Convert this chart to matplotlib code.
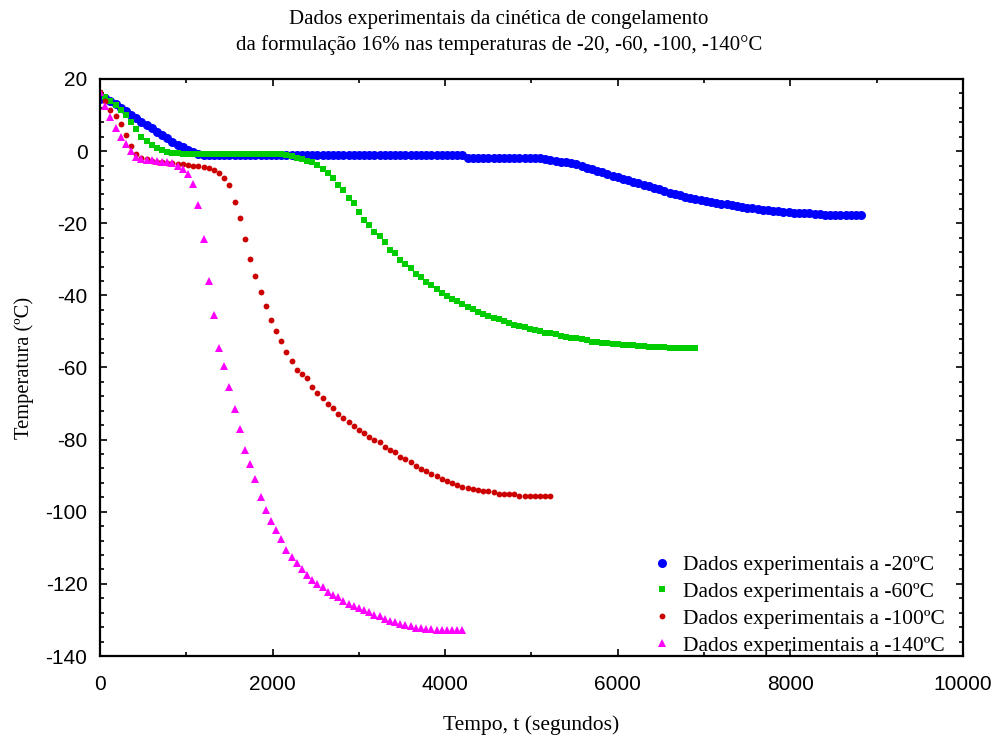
import numpy as np
import matplotlib
matplotlib.use('Agg')
from matplotlib import pyplot as plt
from matplotlib.ticker import MultipleLocator

plt.rcParams['axes.unicode_minus'] = False

serif = ['Liberation Serif', 'DejaVu Serif']
sans = ['Liberation Sans', 'DejaVu Sans']

# sampling every 60 s
dt = 60

# -20 C
temp_20 = [
    14.5, 14.7, 14.0, 13.0, 12.0, 11.0, 10.0, 9.2, 8.2, 7.3, 6.3, 5.3,
    4.5, 3.5, 2.6, 1.8, 1.0, 0.3, -0.3, -0.8, -1.1, -1.1, -1.1, -1.1,
    -1.1, -1.1, -1.1, -1.1, -1.1, -1.1, -1.1, -1.1, -1.1, -1.1, -1.1, -1.1,
    -1.1, -1.1, -1.1, -1.1, -1.1, -1.1, -1.1, -1.1, -1.1, -1.1, -1.1, -1.1,
    -1.1, -1.1, -1.1, -1.1, -1.1, -1.1, -1.1, -1.1, -1.1, -1.1, -1.1, -1.1,
    -1.1, -1.1, -1.1, -1.1, -1.1, -1.1, -1.1, -1.1, -1.1, -1.1, -1.1, -1.8,
    -1.8, -1.8, -1.8, -1.8, -1.8, -1.8, -1.8, -1.8, -1.8, -1.8, -1.8, -1.8,
    -1.8, -1.8, -2.1, -2.4, -2.7, -3.0, -3.1, -3.3, -3.6, -4.2, -4.6, -5.0,
    -5.4, -5.8, -6.3, -6.8, -7.2, -7.7, -8.1, -8.5, -8.9, -9.4, -9.8, -10.2,
    -10.6, -11.1, -11.5, -11.9, -12.2, -12.6, -12.9, -13.3, -13.6, -13.8, -14.1, -14.4,
    -14.6, -14.8, -15.0, -15.3, -15.5, -15.7, -15.9, -16.1, -16.3, -16.4, -16.6, -16.7,
    -16.8, -16.9, -17.1, -17.2, -17.3, -17.3, -17.4, -17.5, -17.6, -17.6, -17.7, -17.8,
    -17.8, -17.8, -17.8, -17.8,
]

# -60 C
temp_60 = [
    16.0, 15.0, 14.0, 12.8, 11.5, 10.0, 8.0, 6.0, 4.0, 2.8, 1.8, 0.8,
    0.2, -0.2, -0.5, -0.6, -0.7, -0.7, -0.7, -0.7, -0.7, -0.7, -0.7, -0.7,
    -0.7, -0.7, -0.7, -0.7, -0.7, -0.7, -0.7, -0.7, -0.7, -0.7, -0.8, -0.8,
    -1.1, -1.4, -1.8, -2.2, -2.7, -3.0, -3.8, -5.0, -6.1, -7.5, -9.3, -10.8,
    -12.9, -14.4, -16.8, -19.1, -20.5, -22.5, -23.6, -25.3, -27.4, -28.3, -30.2, -31.2,
    -32.5, -34.0, -34.8, -36.2, -37.2, -38.3, -39.4, -40.3, -41.0, -41.6, -42.4, -43.1,
    -43.8, -44.6, -45.2, -45.8, -46.3, -46.6, -47.2, -47.8, -48.2, -48.5, -48.8, -49.3,
    -49.7, -50.0, -50.3, -50.5, -50.8, -51.2, -51.5, -51.7, -51.9, -52.2, -52.5, -52.8,
    -53.0, -53.1, -53.3, -53.5, -53.6, -53.7, -53.8, -53.9, -54.0, -54.0, -54.2, -54.3,
    -54.4, -54.4, -54.5, -54.5, -54.5, -54.6, -54.6, -54.6,
]

# -100 C
temp_100 = [
    16.5, 14.0, 11.5, 9.8, 7.5, 4.5, 1.5, -0.8, -1.8, -2.3, -2.7, -3.0,
    -3.1, -3.2, -3.4, -3.5, -3.6, -3.8, -4.1, -4.2, -4.5, -4.8, -5.2, -6.2,
    -7.5, -9.5, -14.0, -18.5, -24.5, -29.8, -34.5, -39.2, -43.0, -46.8, -49.8, -52.6,
    -55.8, -58.2, -60.6, -61.8, -63.0, -65.5, -67.0, -68.4, -70.0, -71.3, -72.8, -73.9,
    -75.1, -76.2, -77.4, -78.3, -79.3, -80.0, -80.6, -82.0, -83.0, -83.5, -84.7, -85.3,
    -86.3, -87.3, -88.1, -88.8, -89.4, -90.2, -90.9, -91.4, -92.0, -92.5, -93.0, -93.3,
    -93.7, -94.0, -94.3, -94.3, -94.4, -95.0, -95.0, -95.0, -95.0, -95.6, -95.6, -95.6,
    -95.6, -95.6, -95.6, -95.6,
]

# -140 C
temp_140 = [
    16.5, 12.5, 9.5, 6.5, 4.0, 2.0, 0.0, -1.5, -2.3, -2.5, -2.6, -2.8,
    -3.0, -3.0, -3.4, -4.0, -5.0, -6.3, -9.0, -15.0, -24.5, -36.0, -45.5, -54.5,
    -59.5, -65.5, -71.5, -77.0, -83.0, -86.8, -91.0, -96.0, -99.5, -102.5, -105.0, -107.5,
    -110.7, -112.5, -114.3, -116.0, -117.4, -118.8, -120.0, -121.0, -122.2, -123.0, -123.7, -124.7,
    -125.5, -126.1, -126.7, -127.3, -127.9, -128.5, -129.0, -129.6, -130.2, -130.6, -131.0, -131.5,
    -131.7, -132.2, -132.3, -132.4, -132.6, -132.8, -132.8, -132.8, -132.8, -132.8, -132.8,
]

labels = ['Dados experimentais a -20ºC', 'Dados experimentais a -60ºC',
          'Dados experimentais a -100ºC', 'Dados experimentais a -140ºC']

fig = plt.figure(figsize=(9.98, 7.38), dpi=100)
ax = fig.add_axes([0.1002, 0.1111, 0.8647, 0.7819])

series = [temp_20, temp_60, temp_100, temp_140]
styles = [('o', 6.5, '#0000ff'), ('s', 4.6, '#00cc00'),
          ('o', 4.2, '#cc0000'), ('^', 5.5, '#ff00ff')]
for temp, (mk, ms, col), lab in zip(series, styles, labels):
    t = np.arange(len(temp)) * dt
    ax.plot(t, temp, linestyle='none', marker=mk, markersize=ms,
            color=col, markeredgewidth=0, label=lab)

ax.set_xlim(0, 10000)
ax.set_ylim(-140, 20)
ax.xaxis.set_major_locator(MultipleLocator(2000))
ax.xaxis.set_minor_locator(MultipleLocator(1000))
ax.yaxis.set_major_locator(MultipleLocator(20))
ax.yaxis.set_minor_locator(MultipleLocator(4))
ax.tick_params(which='both', direction='in', top=True, right=True, width=1.2)
ax.tick_params(which='major', length=5, labelsize=15)
ax.tick_params(axis='x', which='major', pad=14)
ax.tick_params(axis='y', which='major', pad=9)
ax.tick_params(which='minor', length=3)
for lbl in ax.get_xticklabels() + ax.get_yticklabels():
    lbl.set_family(sans)
for s in ax.spines.values():
    s.set_linewidth(1.6)

ax.set_xlabel('Tempo, t (segundos)', family=serif, fontsize=15.5, labelpad=15)
ax.set_ylabel('Temperatura (ºC)', family=serif, fontsize=14.8, labelpad=8)
fig.text(0.5, 0.986, 'Dados experimentais da cinética de congelamento\n'
         'da formulação 16% nas temperaturas de -20, -60, -100, -140°C',
         ha='center', va='top', family=serif, fontsize=15, linespacing=1.38)

leg = ax.legend(loc='lower right', bbox_to_anchor=(0.997, -0.026), frameon=False,
                prop={'family': serif, 'size': 15.5},
                handletextpad=0.4, labelspacing=0.32, borderaxespad=0.3,
                markerscale=1.0, handlelength=1.2)

plt.savefig('out.png', dpi=100)
